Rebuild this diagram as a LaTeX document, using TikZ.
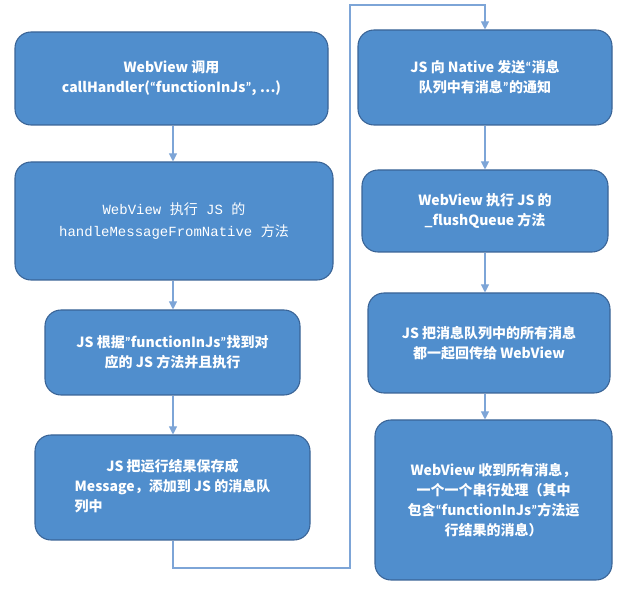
\documentclass[tikz,border=0pt]{standalone}
\usepackage{fontspec}
\setmainfont{Carlito}
\newfontfamily\cjk{Noto Sans CJK SC}
\newfontfamily\cjkmono{Liberation Mono}
\newcommand{\oq}{{\rmfamily “}}
\newcommand{\cq}{{\rmfamily ”}}
\definecolor{boxblue}{RGB}{80,142,205}
\definecolor{boxedge}{RGB}{58,100,150}
\definecolor{linkblue}{RGB}{125,165,215}
\usetikzlibrary{arrows.meta}

\begin{document}
\begin{tikzpicture}[x=0.75pt,y=-0.75pt,
  stepbox/.style={draw=boxedge,line width=0.8pt,fill=boxblue,rounded corners=12pt,
    text=white,align=center,font=\cjk\bfseries\fontsize{10.5}{15}\selectfont,inner sep=0pt},
  link/.style={linkblue,line width=0.8pt,-{Triangle[length=6pt,width=6pt]}}]
  \useasboundingbox (0,0) rectangle (640,595);
  % left column
  \node[stepbox,minimum width=313*0.75pt,minimum height=93*0.75pt] (call) at (171.5,78.5)
    {WebView 调用\\callHandler(\oq functionInJs\cq, …)};
  \node[stepbox,minimum width=318*0.75pt,minimum height=118*0.75pt,font=\cjkmono\fontsize{10.5}{17}\selectfont] (handle) at (174,221)
    {WebView {\cjk 执行} JS {\cjk 的}\\handleMessageFromNative {\cjk 方法}};
  \node[stepbox,minimum width=255*0.75pt,minimum height=85*0.75pt] (find) at (172.5,352.5)
    {JS 根据\cq functionInJs\cq 找到对\\应的 JS 方法并且执行};
  \node[stepbox,minimum width=275*0.75pt,minimum height=105*0.75pt] (save) at (172.5,487.5)
    {JS 把运行结果保存成\\Message，添加到 JS 的消息队\\列中\phantom{Message，添加到 JS 的消}};
  % right column
  \node[stepbox,minimum width=254*0.75pt,minimum height=95*0.75pt] (notify) at (485,77.5)
    {JS 向 Native 发送\oq 消息\\队列中有消息\cq 的通知};
  \node[stepbox,minimum width=246*0.75pt,minimum height=82*0.75pt] (flush) at (485,211)
    {WebView 执行 JS 的\\\_flushQueue 方法};
  \node[stepbox,minimum width=242*0.75pt,minimum height=100*0.75pt] (send) at (489,343)
    {JS 把消息队列中的所有消息\\都一起回传给 WebView};
  \node[stepbox,minimum width=237*0.75pt,minimum height=160*0.75pt] (recv) at (493.5,500)
    {WebView 收到所有消息，\\一个一个串行处理（其中\\包含\oq functionInJs\cq 方法运\\行结果的消息）};
  % connectors
  \coordinate (c1) at (173,568);
  \coordinate (c2) at (350,568);
  \coordinate (c3) at (350,5);
  \coordinate (c4) at (485,5);
  \draw[link] (call.south -| 173,0) -- (handle.north -| 173,0);
  \draw[link] (handle.south -| 173,0) -- (find.north -| 173,0);
  \draw[link] (find.south -| 173,0) -- (save.north -| 173,0);
  \draw[link] (save.south -| 173,0) -- (c1) -- (c2) -- (c3) -- (c4) -- (notify.north);
  \draw[link] (notify) -- (flush);
  \draw[link] (flush.south -| 485,0) -- (send.north -| 485,0);
  \draw[link] (send.south -| 485,0) -- (recv.north -| 485,0);
\end{tikzpicture}
\end{document}
